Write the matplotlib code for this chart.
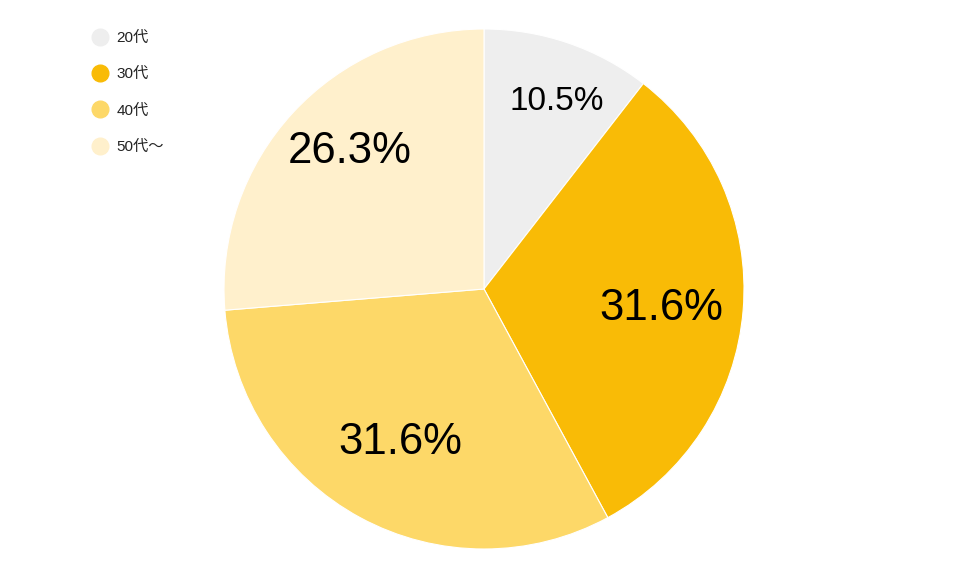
import numpy as np
import matplotlib.pyplot as plt
from matplotlib.lines import Line2D

plt.rcParams['font.family'] = ['Liberation Sans', 'Noto Sans CJK JP', 'DejaVu Sans']

labels = ['20代', '30代', '40代', '50代～']
values = [10.5, 31.6, 31.6, 26.3]
colors = ['#eeeeee', '#f9bb06', '#fdd868', '#fff0cc']
label_dist = [0.785, 0.683, 0.656, 0.752]
label_shift = [2.1, 0.3, 1.0, 4.1]   # degrees clockwise from slice middle
label_size = [24, 31.5, 31.5, 31.5]

fig = plt.figure(figsize=(9.6, 5.78), dpi=100)
ax = fig.add_axes([0, 0, 1, 1])

cx, cy, r = 484, 289, 260
# y axis is inverted (pixel coords), so counterclock in data = clockwise on screen
wedges, _ = ax.pie(values, colors=colors, startangle=-90, counterclock=True,
                   center=(cx, cy), radius=r, frame=True,
                   wedgeprops=dict(edgecolor='white', linewidth=0.8))
ax.set_xlim(0, 960)
ax.set_ylim(578, 0)
ax.set_aspect('equal')
ax.axis('off')

for w, v, d, s, fs in zip(wedges, values, label_dist, label_shift, label_size):
    ang = np.deg2rad((w.theta1 + w.theta2) / 2 + s)
    x = cx + d * r * np.cos(ang)
    y = cy + d * r * np.sin(ang)
    ax.text(x, y, f'{v:.1f}%', ha='center', va='center_baseline', fontsize=fs, color='black')

handles = [Line2D([], [], marker='o', linestyle='none', markersize=12,
                  markerfacecolor=c, markeredgecolor=c) for c in colors]
fig.legend(handles, labels, loc='upper left', bbox_to_anchor=(0.080, 0.970),
           frameon=False, fontsize=11, labelspacing=1.45, handletextpad=0.5,
           handlelength=1.2, labelcolor='#222222')

fig.savefig('out.png', dpi=100)
